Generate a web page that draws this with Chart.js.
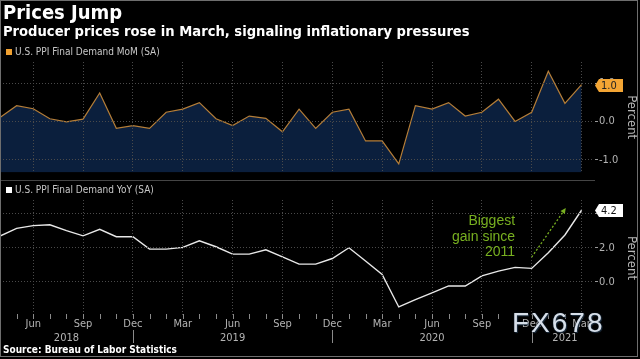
<!DOCTYPE html>
<html>
<head>
<meta charset="utf-8">
<script src="https://cdn.jsdelivr.net/npm/chart.js@4.4.0/dist/chart.umd.min.js"></script>
<style>
  html, body { margin: 0; padding: 0; background: #000; }
  #wrap { position: relative; width: 640px; height: 359px; overflow: hidden; background: #000;
          font-family: 'DejaVu Sans Condensed', 'DejaVu Sans', sans-serif; }
  #wrap canvas { position: absolute; left: 0; }
  .txt { position: absolute; white-space: nowrap; z-index: 3; }
  #title { left: 3px; top: 2px; font-size: 20px; line-height: 20px; font-weight: bold; color: #fff; }
  #subtitle { left: 3px; top: 24px; font-size: 14.6px; line-height: 14px; font-weight: bold; color: #fff; }
  .legend { left: 6px; font-size: 10px; line-height: 10px; color: #c8c8c8; }
  .legend i { display: inline-block; width: 6px; height: 6px; margin-right: 3px; vertical-align: 0px; }
  #source { left: 3px; top: 345px; font-size: 10px; line-height: 10px; font-weight: bold; color: #fff; }
  #mark { left: 512px; top: 309px; font-family: 'Liberation Sans', Arial, sans-serif; font-size: 28px; line-height: 28px;
          letter-spacing: 2px; color: rgba(232, 240, 250, 0.92);
          text-shadow: 0 0 2px #123, 1px 1px 1px #234; }
  #frame { position: absolute; left: 0; top: 0; width: 638px; height: 357px; border: 1px solid #6e6e6e;
           box-sizing: border-box; z-index: 4; pointer-events: none; }
</style>
</head>
<body>
<div id="wrap">
  <canvas id="momChart" width="640" height="180" style="top:0"></canvas>
  <canvas id="yoyChart" width="640" height="179" style="top:180px"></canvas>
  <div class="txt" id="title">Prices Jump</div>
  <div class="txt" id="subtitle">Producer prices rose in March, signaling inflationary pressures</div>
  <div class="txt legend" style="top:47px"><i style="background:#f0a030"></i>U.S. PPI Final Demand MoM (SA)</div>
  <div class="txt legend" style="top:185px"><i style="background:#fff"></i>U.S. PPI Final Demand YoY (SA)</div>
  <div class="txt" id="source">Source: Bureau of Labor Statistics</div>
  <div class="txt" id="mark">FX678</div>
  <div id="frame"></div>
</div>
<script>
const categories = [
  'Apr 2018', 'May 2018', 'Jun 2018', 'Jul 2018', 'Aug 2018', 'Sep 2018', 'Oct 2018', 'Nov 2018', 'Dec 2018',
  'Jan 2019', 'Feb 2019', 'Mar 2019', 'Apr 2019', 'May 2019', 'Jun 2019', 'Jul 2019', 'Aug 2019', 'Sep 2019',
  'Oct 2019', 'Nov 2019', 'Dec 2019',
  'Jan 2020', 'Feb 2020', 'Mar 2020', 'Apr 2020', 'May 2020', 'Jun 2020', 'Jul 2020', 'Aug 2020', 'Sep 2020',
  'Oct 2020', 'Nov 2020', 'Dec 2020',
  'Jan 2021', 'Feb 2021', 'Mar 2021'
];
const momValues = [0.1, 0.41, 0.33, 0.07, -0.01, 0.06, 0.74, -0.18, -0.11, -0.18,
  0.24, 0.32, 0.49, 0.07, -0.11, 0.14, 0.08, -0.27, 0.32, -0.18,
  0.24, 0.32, -0.51, -0.51, -1.11, 0.41, 0.32, 0.49, 0.14, 0.24,
  0.58, 0.0, 0.24, 1.31, 0.47, 0.96];
const yoyValues = [2.69, 3.14, 3.3, 3.35, 3.0, 2.7, 3.08, 2.65, 2.65, 1.92,
  1.92, 2.02, 2.41, 2.06, 1.63, 1.63, 1.88, 1.47, 1.04, 1.04,
  1.37, 2.0, 1.22, 0.43, -1.47, -1.04, -0.65, -0.24, -0.24, 0.35,
  0.63, 0.85, 0.79, 1.71, 2.75, 4.2];

// tick positions (month index)
const quarterTicks = [2, 5, 8, 11, 14, 17, 20, 23, 26, 29, 32, 35];
const yearLabels = ['2018', '2019', '2020', '2021'];
const yearTicks = [4, 14, 26, 34];
const yearBreaks = [8, 20, 32];
const momTicks = [-1, 0, 1];
const yoyTicks = [0, 2, 4];

// annotation
const noteLines = ['Biggest', 'gain since', '2011'];
const noteAt = { x: 31, y: 3.34 };
const arrowFrom = { x: 32, y: 1.45 };
const arrowTo = { x: 34.05, y: 4.33 };

Chart.defaults.font.family = "'DejaVu Sans Condensed', 'DejaVu Sans', sans-serif";
Chart.defaults.color = '#b0b0b0';

const X_MAX = 35.75;
const GRID = '#4a4a4a';

function points(values) {
  return values.map((v, i) => ({ x: i, y: v }));
}

function xScale(showLabels) {
  return {
    type: 'linear', min: 0, max: X_MAX, weight: 0,
    afterBuildTicks: s => { s.ticks = quarterTicks.map(v => ({ value: v })); },
    ticks: {
      display: showLabels, autoSkip: false, maxRotation: 0, padding: 2,
      color: '#b4b4b4', font: { size: 11 },
      callback: v => categories[v] ? categories[v].slice(0, 3) : ''
    },
    grid: { color: GRID, drawTicks: false, z: 1 },
    border: { display: true, color: showLabels ? '#8a8a8a' : '#5a5a5a', dash: [1, 2] }
  };
}

function yScale(min, max, ticks) {
  return {
    position: 'right', min, max,
    afterBuildTicks: s => { s.ticks = ticks.map(v => ({ value: v })); },
    afterFit: s => { s.width = 46; },
    ticks: { padding: 1, color: '#b4b4b4', font: { size: 11 }, callback: v => v.toFixed(1) },
    grid: { color: GRID, tickColor: '#999', tickLength: 4, z: 1 },
    border: { color: '#9a9a9a', dash: [1, 2] },
    title: { display: true, text: 'Percent', color: '#b8b8b8', font: { size: 13 }, padding: { top: 1, bottom: 0 } }
  };
}

// value tag on the right axis for the latest point
const lastTag = {
  id: 'lastTag',
  afterDraw(chart, args, opts) {
    const { ctx } = chart;
    const ys = chart.scales.y;
    const data = chart.data.datasets[0].data;
    const last = data[data.length - 1].y;
    const y = Math.round(ys.getPixelForValue(last)) + 0.5;
    const x0 = ys.left + 1;
    ctx.save();
    ctx.fillStyle = opts.bg;
    ctx.beginPath();
    ctx.moveTo(x0, y);
    ctx.lineTo(x0 + 4, y - 6.5);
    ctx.lineTo(x0 + 28, y - 6.5);
    ctx.lineTo(x0 + 28, y + 6.5);
    ctx.lineTo(x0 + 4, y + 6.5);
    ctx.closePath();
    ctx.fill();
    ctx.fillStyle = opts.fg;
    ctx.font = "11px 'DejaVu Sans Condensed', 'DejaVu Sans', sans-serif";
    ctx.textBaseline = 'middle';
    ctx.fillText(last.toFixed(1), x0 + 6, y + 0.5);
    ctx.restore();
  }
};

// month ticks, year separators and the note
const axisDecor = {
  id: 'axisDecor',
  afterDraw(chart) {
    const { ctx } = chart;
    const xs = chart.scales.x;
    const ys = chart.scales.y;
    ctx.save();
    ctx.strokeStyle = '#8a8a8a';
    ctx.lineWidth = 1;
    categories.forEach((c, i) => {
      const px = Math.round(xs.getPixelForValue(i)) + 0.5;
      ctx.beginPath();
      ctx.moveTo(px, xs.top - 2);
      ctx.lineTo(px, xs.top + 3);
      ctx.stroke();
    });
    yearBreaks.forEach(i => {
      const px = Math.round(xs.getPixelForValue(i)) + 0.5;
      ctx.beginPath();
      ctx.moveTo(px, xs.top + 14);
      ctx.lineTo(px, xs.top + 27);
      ctx.stroke();
    });

    // note
    ctx.fillStyle = '#78b020';
    ctx.font = "14px 'Liberation Sans', Arial, sans-serif";
    ctx.textAlign = 'right';
    ctx.textBaseline = 'alphabetic';
    const nx = xs.getPixelForValue(noteAt.x);
    const ny = ys.getPixelForValue(noteAt.y);
    noteLines.forEach((t, k) => ctx.fillText(t, nx, ny + k * 15.7));

    // dotted arrow
    const ax1 = xs.getPixelForValue(arrowFrom.x), ay1 = ys.getPixelForValue(arrowFrom.y);
    const ax2 = xs.getPixelForValue(arrowTo.x), ay2 = ys.getPixelForValue(arrowTo.y);
    const ang = Math.atan2(ay2 - ay1, ax2 - ax1);
    ctx.strokeStyle = '#78b020';
    ctx.lineWidth = 1.3;
    ctx.setLineDash([2, 2]);
    ctx.beginPath();
    ctx.moveTo(ax1, ay1);
    ctx.lineTo(ax2 - 4 * Math.cos(ang), ay2 - 4 * Math.sin(ang));
    ctx.stroke();
    ctx.setLineDash([]);
    ctx.beginPath();
    ctx.moveTo(ax2, ay2);
    ctx.lineTo(ax2 - 6 * Math.cos(ang - 0.45), ay2 - 6 * Math.sin(ang - 0.45));
    ctx.lineTo(ax2 - 6 * Math.cos(ang + 0.45), ay2 - 6 * Math.sin(ang + 0.45));
    ctx.closePath();
    ctx.fillStyle = '#78b020';
    ctx.fill();
    ctx.restore();
  }
};

new Chart(document.getElementById('momChart'), {
  type: 'line',
  data: {
    datasets: [{
      label: 'U.S. PPI Final Demand MoM (SA)',
      data: points(momValues),
      borderColor: '#b57e38',
      borderWidth: 1.2,
      backgroundColor: '#0b1f3d',
      fill: 'start',
      pointRadius: 0,
      tension: 0
    }]
  },
  options: {
    responsive: false,
    animation: false,
    devicePixelRatio: 1,
    layout: { padding: { top: 62, bottom: 2, left: 0, right: 0 } },
    plugins: { legend: { display: false }, tooltip: { enabled: false }, lastTag: { bg: '#f3a534', fg: '#222' } },
    scales: { x: xScale(false), y: yScale(-1.33, 1.55, momTicks) }
  },
  plugins: [lastTag]
});

new Chart(document.getElementById('yoyChart'), {
  type: 'line',
  data: {
    datasets: [{
      label: 'U.S. PPI Final Demand YoY (SA)',
      data: points(yoyValues),
      borderColor: '#e8e8e8',
      borderWidth: 1.4,
      fill: false,
      pointRadius: 0,
      tension: 0
    }]
  },
  options: {
    responsive: false,
    animation: false,
    devicePixelRatio: 1,
    layout: { padding: { top: 20, bottom: 13, left: 0, right: 0 } },
    plugins: { legend: { display: false }, tooltip: { enabled: false }, lastTag: { bg: '#ffffff', fg: '#111' } },
    scales: {
      x: Object.assign(xScale(true), { afterFit: s => { s.height = 16; } }),
      xYear: {
        type: 'linear', min: 0, max: X_MAX, position: 'bottom', weight: 1,
        afterBuildTicks: s => { s.ticks = yearTicks.map(v => ({ value: v })); },
        afterFit: s => { s.height = 14; },
        ticks: {
          autoSkip: false, maxRotation: 0, padding: 0, color: '#b4b4b4', font: { size: 11 },
          callback: v => yearLabels[yearTicks.indexOf(v)]
        },
        grid: { display: false, drawTicks: false },
        border: { display: false }
      },
      y: yScale(-2.0, 4.8, yoyTicks)
    }
  },
  plugins: [lastTag, axisDecor]
});
</script>
</body>
</html>
